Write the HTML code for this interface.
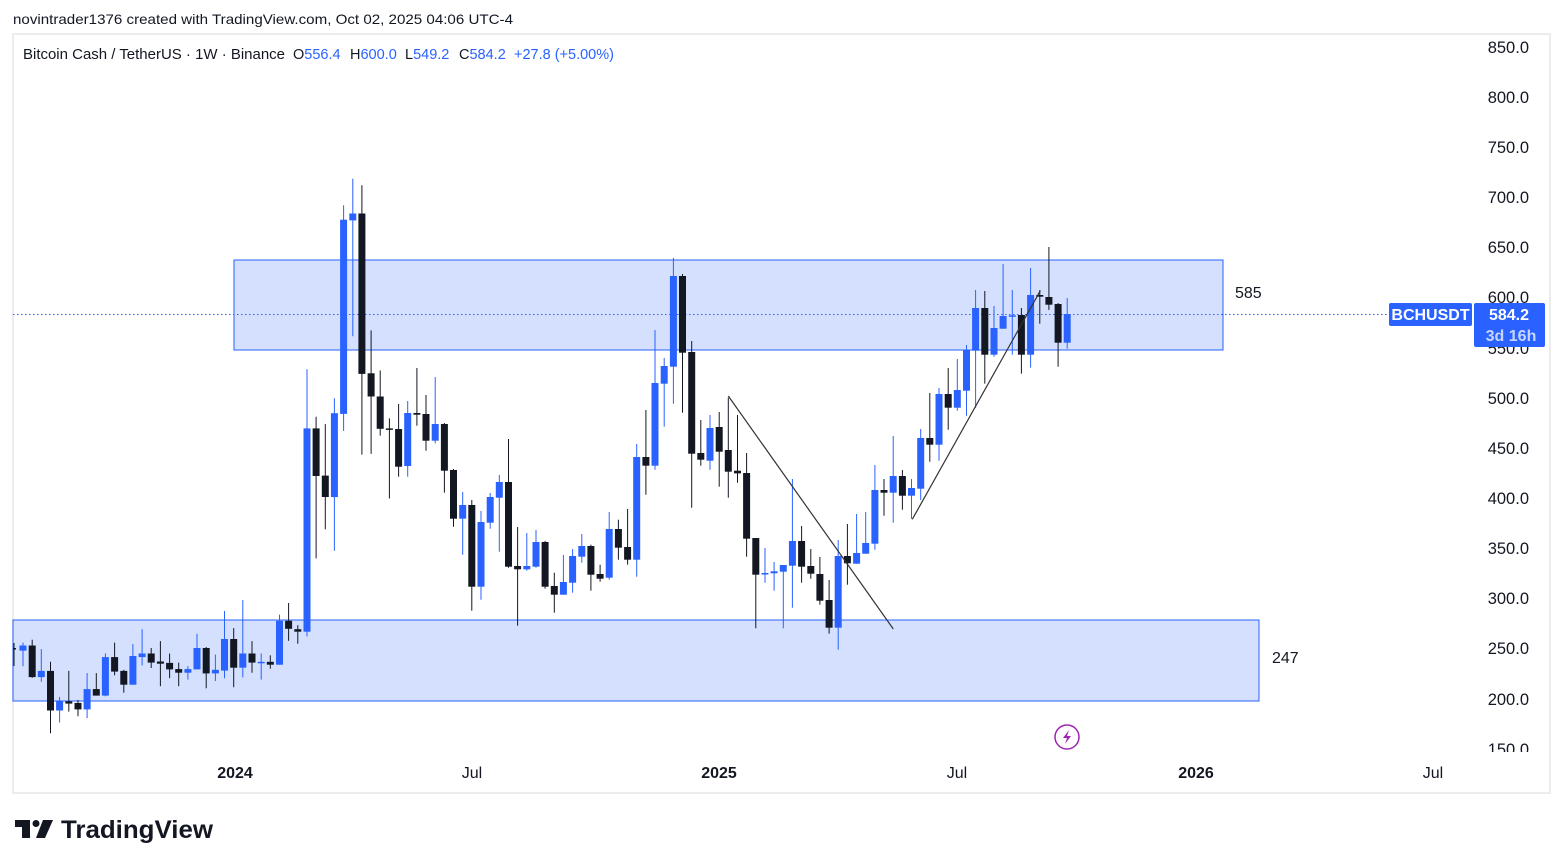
<!DOCTYPE html>
<html><head><meta charset="utf-8"><style>
html,body{margin:0;padding:0;background:#fff;}
svg{display:block;font-family:"Liberation Sans","DejaVu Sans",sans-serif;}
</style></head><body>
<svg id="s" width="1563" height="868" xmlns="http://www.w3.org/2000/svg">
<rect width="1563" height="868" fill="#fff"/>
<text x="13" y="24" font-size="14" fill="#131722" textLength="500" lengthAdjust="spacingAndGlyphs">novintrader1376 created with TradingView.com, Oct 02, 2025 04:06 UTC-4</text>
<rect x="13" y="34" width="1537" height="759" fill="#fff" stroke="#ececec" stroke-width="2"/>
<rect x="234" y="260" width="989" height="90" fill="#d4e0fd" stroke="#2962ff" stroke-width="1"/>
<rect x="13" y="620" width="1246" height="81" fill="#d4e0fd" stroke="#2962ff" stroke-width="1"/>
<line x1="13" y1="314.5" x2="1390" y2="314.5" stroke="#2962ff" stroke-width="1" stroke-dasharray="1.5,2.5"/>
<g id="c"></g>
<line x1="728.3" y1="396" x2="893.3" y2="629" stroke="#333" stroke-width="1.2"/>
<line x1="912.3" y1="519.3" x2="1040.3" y2="290.7" stroke="#333" stroke-width="1.2"/>
<g font-size="14.5" fill="#131722">
<text x="23" y="59" textLength="262" lengthAdjust="spacingAndGlyphs">Bitcoin Cash / TetherUS · 1W · Binance</text>
<text x="293" y="59">O<tspan fill="#2962ff">556.4</tspan></text>
<text x="350" y="59">H<tspan fill="#2962ff">600.0</tspan></text>
<text x="405" y="59">L<tspan fill="#2962ff">549.2</tspan></text>
<text x="459" y="59">C<tspan fill="#2962ff">584.2</tspan></text>
<text x="514" y="59" fill="#2962ff">+27.8 (+5.00%)</text>
</g>
<text x="1235" y="298" font-size="16" fill="#131722">585</text>
<text x="1272" y="663" font-size="16" fill="#131722">247</text>
<g font-size="16.5" fill="#131722" text-anchor="end">
<text x="1529" y="53">850.0</text><text x="1529" y="103">800.0</text><text x="1529" y="153">750.0</text>
<text x="1529" y="203">700.0</text><text x="1529" y="253">650.0</text><text x="1529" y="303">600.0</text>
<text x="1529" y="354">550.0</text><text x="1529" y="404">500.0</text><text x="1529" y="454">450.0</text>
<text x="1529" y="504">400.0</text><text x="1529" y="554">350.0</text><text x="1529" y="604">300.0</text>
<text x="1529" y="654">250.0</text><text x="1529" y="705">200.0</text>
</g>
<clipPath id="cl"><rect x="1400" y="740" width="150" height="12"/></clipPath>
<text x="1529" y="755" font-size="16.5" fill="#131722" text-anchor="end" clip-path="url(#cl)">150.0</text>
<rect x="1389" y="303" width="83" height="23" rx="2" fill="#2962ff"/>
<text x="1430.5" y="320" font-size="16" font-weight="bold" fill="#fff" text-anchor="middle">BCHUSDT</text>
<rect x="1474" y="303" width="71" height="44" rx="2" fill="#2962ff"/>
<text x="1509" y="320" font-size="16" font-weight="bold" fill="#fff" text-anchor="middle">584.2</text>
<text x="1511" y="341" font-size="16" font-weight="bold" fill="#c8d6ff" text-anchor="middle">3d 16h</text>
<g font-size="16" fill="#131722" text-anchor="middle">
<text x="235" y="778" font-weight="bold">2024</text><text x="472" y="778">Jul</text>
<text x="719" y="778" font-weight="bold">2025</text><text x="957" y="778">Jul</text>
<text x="1196" y="778" font-weight="bold">2026</text><text x="1433" y="778">Jul</text>
</g>
<circle cx="1067" cy="737" r="12" fill="#fff" stroke="#9c27b0" stroke-width="1.5"/>
<path d="M1069 730 L1063 738 L1067 738 L1065 744 L1071 736 L1067 736 Z" fill="#9c27b0"/>
<g fill="#131722">
<path d="M15 820 H30 V838 H22 V827 H15 Z"/><circle cx="36" cy="823.5" r="3.5"/><path d="M43 820 H53 L45 838 H36 Z"/>
</g>
<text x="61" y="838" font-size="25" font-weight="bold" fill="#131722" textLength="152" lengthAdjust="spacingAndGlyphs">TradingView</text>
</svg>
<script>
const B="#2962ff",K="#131722";
const z1=[[1308,1322,1300,1365,B],[1308,1395,1292,1397,K],[1378,1395,1318,1408,B],[1378,1487,1353,1550,K],[1462,1487,1450,1520,B],[1462,1468,1378,1490,K],[1466,1484,1458,1503,K],[1428,1484,1384,1508,B],[1428,1446,1384,1446,K],[1340,1446,1330,1448,B],[1340,1380,1300,1390,K],[1378,1416,1375,1438,K],[1337,1416,1304,1416,B],[1330,1340,1263,1363,B],[1330,1355,1315,1370,K],[1352,1358,1296,1420,K],[1356,1374,1330,1398,K],[1373,1383,1355,1420,K],[1373,1383,1365,1402,B],[1315,1374,1276,1374,B],[1315,1385,1312,1426,K],[1375,1385,1333,1406,B],[1290,1377,1213,1398,B],[1290,1369,1260,1423,K],[1330,1369,1183,1396,B],[1330,1355,1296,1383,K],[1353,1355,1330,1402,B],[1353,1361,1335,1372,K],[1240,1361,1223,1361,B],[1240,1262,1191,1295,K],[1263,1270,1252,1303,K],[710,1270,547,1283,B],[710,841,678,1068,K],[840,899,698,988,K],[668,899,627,1047,B],[135,670,95,717,B],[118,137,22,456,B],[118,560,40,782,K],[558,622,440,780,K],[622,711,550,730,K],[710,713,682,903,K]];
const z2=[[537,650,462,680,K],[489,648,453,680,B],[489,494,354,527,K],[492,572,435,602,K],[522,572,381,580,B],[522,662,519,728,K],[660,806,657,830,K],[765,806,726,914,B],[765,1010,750,1082,K],[816,1010,783,1049,B],[741,818,729,836,B],[696,743,675,905,B],[696,950,567,953,K],[948,958,831,1127,K],[948,958,849,962,B],[876,950,840,953,B],[876,1010,873,1016,K],[1008,1034,968,1088,K],[996,1034,915,1034,B],[918,998,897,1028,B],[888,920,852,938,B],[888,974,884,1022,K],[972,986,944,995,K],[837,983,786,989,B],[837,893,809,929,K],[891,929,777,944,K],[621,929,582,980,B],[621,647,480,734,K],[399,647,240,659,B],[348,401,324,530,B],[78,350,24,461,B],[78,308,72,488,K],[306,611,273,773,K],[609,629,510,647,K],[534,632,495,659,B],[531,605,486,710,K],[600,665,443,743,K],[662,670,495,698,K]];
const z3=[[699,896,639,950,K],[894,1004,894,1165,K],[999,1003,924,1028,B],[994,1000,966,1052,B],[975,995,975,1165,B],[903,977,717,1103,B],[903,980,858,1028,K],[978,1001,927,1016,K],[1002,1082,951,1094,K],[1080,1163,1020,1181,K],[948,1163,900,1229,B],[948,970,852,1034,K],[939,971,822,971,B],[909,941,816,941,B],[750,911,675,929,B],[750,758,717,827,K],[708,758,588,848,B],[708,767,690,809,K],[744,767,717,836,B],[594,746,567,780,B],[594,614,459,665,K],[462,614,444,662,B],[462,503,384,569,K],[450,503,357,512,B],[330,452,315,527,B],[204,332,150,503,B],[204,344,153,431,K],[264,344,198,350,B],[228,266,72,266,B],[226,230,150,344,B],[225,344,204,401,K],[165,344,84,383,B],[165,170,150,251,K],[171,194,21,210,K],[192,308,189,380,K],[222,308,174,326,B]];
const all=[];
z1.forEach(d=>all.push(d.slice(0,4).map(v=>170.7+v*0.363).concat([d[4]])));
z2.forEach(d=>all.push(d.slice(0,4).map(v=>250+v/3).concat([d[4]])));
z3.forEach(d=>all.push(d.slice(0,4).map(v=>240+v/3).concat([d[4]])));
let h='';
h+=`<line x1="14" y1="643" x2="14" y2="666" stroke="${K}" stroke-width="1"/><rect x="13" y="648" width="3" height="1.5" fill="${K}"/>`;
all.forEach((d,i)=>{
 const x=23+i*9.16;const t=Math.min(d[0],d[1]),b=Math.max(d[0],d[1]);
 h+=`<line x1="${x.toFixed(1)}" y1="${d[2].toFixed(1)}" x2="${x.toFixed(1)}" y2="${d[3].toFixed(1)}" stroke="${d[4]}" stroke-width="1"/>`;
 h+=`<rect x="${(x-3.5).toFixed(1)}" y="${t.toFixed(1)}" width="7" height="${Math.max(1.5,b-t).toFixed(1)}" fill="${d[4]}"/>`;
});
document.getElementById('c').innerHTML=h;
</script>
</body></html>
